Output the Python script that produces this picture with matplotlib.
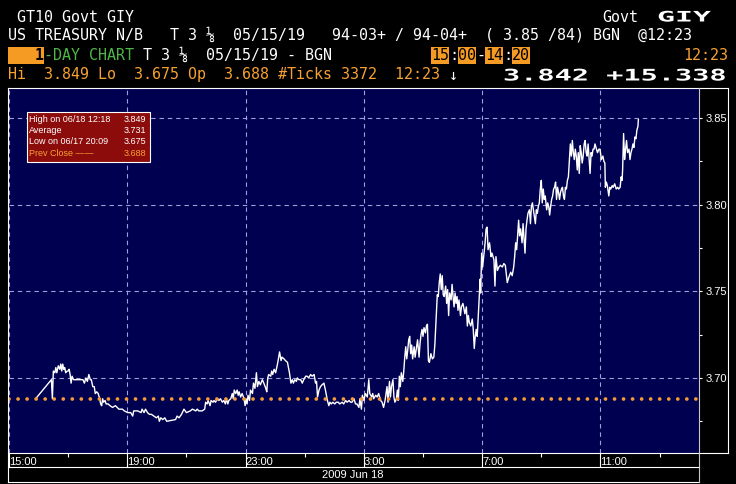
import matplotlib
matplotlib.use("Agg")
import matplotlib.pyplot as plt
from matplotlib.patches import Rectangle, PathPatch
from matplotlib.lines import Line2D
from matplotlib.textpath import TextPath
from matplotlib.font_manager import FontProperties
from matplotlib.transforms import Affine2D

# ---- data: minutes after 15:00 (Jun 17) and yield ----
tick_minutes = [
    54, 86, 88, 90, 93, 95, 97, 100, 103, 105, 107, 109, 111, 113, 115, 118, 120, 122, 124, 126,
    128, 131, 150, 153, 156, 159, 162, 165, 167, 170, 173, 175, 178, 181, 184, 186, 188, 190, 192, 195,
    197, 201, 205, 210, 216, 223, 230, 234, 241, 247, 251, 253, 261, 268, 270, 274, 277, 281, 285, 289,
    294, 299, 303, 305, 308, 312, 316, 320, 338, 341,
    345, 350, 355, 360, 368, 372, 379, 382, 385, 392, 397, 399, 402, 404, 408, 410, 414, 416, 419, 423,
    426, 429, 433, 436, 439, 441, 444, 446, 450, 453, 455, 457, 460, 463, 465, 467, 470, 473, 477, 479,
    481, 483, 485, 488, 490, 494, 496, 499, 502, 504, 507, 510, 514, 517, 521, 523, 525, 527, 531, 533,
    535, 538, 541, 544, 546, 549, 552, 554, 558, 561, 565, 567, 569, 572, 575, 577, 580, 583, 585, 588,
    592, 595, 598, 602, 605, 608, 612, 615, 619, 622, 624, 626, 629, 632, 635, 639, 642, 646, 649, 651,
    654, 657, 661, 664, 668, 671, 676, 679, 683, 686, 690, 693, 696, 700, 703, 706, 710, 712, 715, 717,
    720, 723, 727,
    730, 732, 736, 738, 740, 744, 747, 750, 754, 757, 760, 763, 765, 767, 769, 772, 774, 776, 779, 781,
    783, 786, 788, 790, 792, 794, 796, 799, 801, 803, 805, 807, 809, 811, 813, 815, 817, 819, 822, 824,
    826, 829, 832, 834, 836, 838, 840, 842, 845, 847, 849, 851, 853, 856, 859, 862, 864, 867, 869, 871,
    873, 875, 877, 879, 881, 883, 886, 888, 890, 892, 894, 897, 899, 901, 903, 905, 907, 909, 911, 913,
    916, 918, 921, 923, 925, 928, 930, 932, 934, 937, 940, 942, 944, 946, 948, 950, 952, 954, 956,
    957, 959, 961, 966, 968, 970, 972, 975, 978, 980, 984, 986, 988, 991, 994, 997, 1001, 1004, 1007, 1011,
    1014, 1018, 1021, 1024, 1026, 1028, 1030, 1032, 1034, 1036, 1038, 1041, 1043, 1045, 1047, 1049, 1051, 1053, 1056, 1058,
    1060, 1062, 1064, 1066, 1068, 1070, 1072, 1074, 1076, 1078, 1080, 1082, 1084, 1086, 1088, 1091, 1093, 1095, 1097, 1099,
    1101, 1103, 1105, 1107, 1109, 1111, 1113, 1115, 1117, 1119, 1121, 1123, 1125, 1127, 1129, 1131, 1133, 1135, 1137, 1139,
    1141, 1143, 1145, 1147, 1149, 1151, 1153, 1155, 1157, 1159, 1161, 1163, 1165, 1167, 1169, 1171, 1173, 1175, 1177, 1179,
    1181, 1183, 1185, 1187, 1189, 1191, 1194, 1197, 1199, 1202, 1205, 1207, 1209, 1210, 1212, 1214, 1217, 1219, 1221, 1224,
    1226, 1229, 1232, 1235, 1237, 1240, 1242, 1244, 1245, 1247, 1249, 1251, 1253, 1255, 1258, 1260, 1262, 1264, 1266, 1268,
    1270, 1272, 1274, 1276, 1277,
]
tick_yields = [
    3.688, 3.699, 3.688, 3.704, 3.703, 3.706, 3.703, 3.707, 3.705, 3.708, 3.704, 3.708, 3.705, 3.706, 3.703, 3.704, 3.704, 3.705, 3.702, 3.697,
    3.701, 3.699, 3.699, 3.697, 3.700, 3.698, 3.702, 3.699, 3.699, 3.695, 3.695, 3.691, 3.692, 3.691, 3.688, 3.685, 3.684, 3.688, 3.686, 3.687,
    3.685, 3.685, 3.684, 3.683, 3.684, 3.682, 3.682, 3.681, 3.680, 3.680, 3.678, 3.681, 3.681, 3.680, 3.682, 3.680, 3.682, 3.680, 3.679, 3.679,
    3.678, 3.677, 3.678, 3.675, 3.677, 3.676, 3.677, 3.675, 3.676, 3.678,
    3.677, 3.679, 3.682, 3.680, 3.681, 3.682, 3.681, 3.682, 3.681, 3.681, 3.682, 3.686, 3.685, 3.687, 3.684, 3.687, 3.686, 3.687, 3.686, 3.688,
    3.687, 3.688, 3.686, 3.687, 3.685, 3.688, 3.685, 3.687, 3.688, 3.691, 3.688, 3.693, 3.691, 3.693, 3.690, 3.692, 3.689, 3.691, 3.688, 3.684,
    3.688, 3.685, 3.690, 3.687, 3.693, 3.691, 3.697, 3.694, 3.703, 3.695, 3.698, 3.696, 3.699, 3.697, 3.694, 3.692, 3.700, 3.702, 3.701, 3.704,
    3.702, 3.705, 3.703, 3.707, 3.710, 3.715, 3.710, 3.712, 3.711, 3.710, 3.709, 3.706, 3.703, 3.697, 3.699, 3.697, 3.699, 3.698, 3.700, 3.699,
    3.699, 3.697, 3.699, 3.701, 3.701, 3.700, 3.702, 3.701, 3.702, 3.697, 3.698, 3.689, 3.693, 3.695, 3.696, 3.697, 3.693, 3.687, 3.684, 3.686,
    3.685, 3.686, 3.685, 3.686, 3.686, 3.685, 3.686, 3.685, 3.687, 3.686, 3.687, 3.686, 3.686, 3.688, 3.685, 3.685, 3.683, 3.688, 3.682, 3.690,
    3.687, 3.691, 3.689,
    3.699, 3.691, 3.689, 3.691, 3.688, 3.690, 3.689, 3.691, 3.687, 3.686, 3.683, 3.687, 3.691, 3.695, 3.686, 3.698, 3.689, 3.695, 3.699, 3.689,
    3.686, 3.688, 3.693, 3.687, 3.701, 3.695, 3.703, 3.698, 3.704, 3.712, 3.718, 3.711, 3.716, 3.722, 3.724, 3.714, 3.719, 3.711, 3.718, 3.712,
    3.716, 3.722, 3.712, 3.720, 3.725, 3.728, 3.724, 3.729, 3.726, 3.730, 3.731, 3.710, 3.709, 3.714, 3.711, 3.712, 3.719, 3.736, 3.748, 3.747,
    3.755, 3.760, 3.751, 3.759, 3.748, 3.747, 3.753, 3.743, 3.751, 3.736, 3.749, 3.745, 3.754, 3.747, 3.741, 3.749, 3.743, 3.747, 3.739, 3.745,
    3.736, 3.741, 3.743, 3.740, 3.737, 3.741, 3.730, 3.736, 3.732, 3.730, 3.734, 3.728, 3.717, 3.724, 3.728, 3.724, 3.735, 3.747, 3.757,
    3.749, 3.772, 3.764, 3.778, 3.786, 3.787, 3.774, 3.778, 3.770, 3.772, 3.768, 3.753, 3.770, 3.762, 3.764, 3.765, 3.764, 3.766, 3.765, 3.755,
    3.758, 3.761, 3.759, 3.764, 3.770, 3.778, 3.774, 3.782, 3.791, 3.782, 3.786, 3.778, 3.789, 3.780, 3.772, 3.786, 3.791, 3.795, 3.797, 3.789,
    3.799, 3.801, 3.797, 3.793, 3.789, 3.797, 3.795, 3.799, 3.801, 3.809, 3.814, 3.801, 3.809, 3.803, 3.805, 3.797, 3.801, 3.799, 3.794, 3.799,
    3.803, 3.805, 3.809, 3.810, 3.813, 3.803, 3.810, 3.807, 3.803, 3.807, 3.809, 3.810, 3.805, 3.803, 3.810, 3.809, 3.814, 3.816, 3.826, 3.835,
    3.828, 3.837, 3.830, 3.826, 3.832, 3.828, 3.820, 3.830, 3.818, 3.834, 3.830, 3.824, 3.828, 3.835, 3.837, 3.830, 3.828, 3.835, 3.826, 3.818,
    3.830, 3.828, 3.832, 3.832, 3.835, 3.833, 3.830, 3.832, 3.832, 3.826, 3.828, 3.825, 3.824, 3.810, 3.813, 3.811, 3.805, 3.810, 3.809, 3.811,
    3.810, 3.812, 3.809, 3.810, 3.809, 3.810, 3.816, 3.814, 3.820, 3.841, 3.826, 3.832, 3.837, 3.830, 3.832, 3.826, 3.830, 3.832, 3.835, 3.833,
    3.839, 3.838, 3.843, 3.845, 3.849,
]
prev_close = 3.688

x_major = [0, 240, 480, 720, 960, 1200]
x_labels = ["15:00", "19:00", "23:00", "3:00", "7:00", "11:00"]
x_minor = [120, 360, 600, 840, 1080, 1320]
y_major = [3.70, 3.75, 3.80, 3.85]
y_minor = [3.675, 3.725, 3.775, 3.825]

stats_labels = ["High on 06/18 12:18", "Average", "Low on 06/17 20:09", "Prev Close \u2014\u2014"]
stats_values = ["3.849", "3.731", "3.675", "3.688"]

plt.rcParams["font.family"] = ["Liberation Sans", "DejaVu Sans"]

W, H = 736, 484
fig = plt.figure(figsize=(W / 100, H / 100), dpi=100, facecolor="black")
px = Affine2D().scale(1 / W, 1 / H) + fig.transFigure   # pixel coords, origin bottom-left

ORANGE = "#f7a133"
BOX = "#f59a23"
GREEN = "#4fb548"
MONO = ["DejaVu Sans Mono", "DejaVu Sans"]


def fy(y):
    return 1 - y / H


def term(col, y, s, color, **kw):
    fig.text((8 + col * 9) / W, fy(y), s, color=color, family=MONO, fontsize=10.8,
             va="center", ha="left", **kw)


def box(col, n, y0=47, y1=64):
    fig.add_artist(Rectangle(((8 + col * 9) / W, fy(y1)), n * 9 / W, (y1 - y0) / H,
                             transform=fig.transFigure, facecolor=BOX, edgecolor="none", zorder=1))


def wide(x, base_y, s, size, pitch, color="white"):
    fp = FontProperties(family="DejaVu Sans Mono", weight="bold")
    tp = TextPath((0, 0), s, size=size, prop=fp)
    sx = pitch / (0.602 * size)
    tr = Affine2D().scale(sx, 1).translate(x, H - base_y) + px
    fig.add_artist(PathPatch(tp, transform=tr, facecolor=color, edgecolor="none"))


# header lines
term(0, 18, " GT10 Govt GIY", "white")
term(66, 18, "Govt", "white")
wide(657, 21.5, "GIY", 14.5, 18)

term(0, 35, "US TREASURY N/B   T 3 \u215b  05/15/19   94-03+ / 94-04+  ( 3.85 /84) BGN  @12:23", "white")

box(0, 4)
term(3, 55, "1", "black", fontweight="bold")
term(4, 55, "-DAY CHART", GREEN)
term(14, 55, " T 3 \u215b  05/15/19 - BGN", "white")
for col, s in [(47, "15"), (50, "00"), (53, "14"), (56, "20")]:
    box(col, 2)
    term(col, 55, s, "black", zorder=2)
term(49, 55, ":", "white")
term(52, 55, "-", "white")
term(55, 55, ":", "white")
term(75, 55, "12:23", ORANGE)

term(0, 75, "Hi  3.849 Lo  3.675 Op  3.688 #Ticks 3372  12:23", ORANGE)
term(49, 75, "\u2193", "white")
wide(503, 80.5, "3.842 +15.338", 16, 17.2)

# chart
ax = fig.add_axes([9 / W, 1 - 453 / H, 690 / W, 364 / H])
ax.set_facecolor("#000050")
ax.plot(tick_minutes, tick_yields, color="white", lw=1.0, zorder=3)
ax.axhline(prev_close, color="#f59a36", lw=2.7, linestyle=(0, (0.01, 2.4)),
           dash_capstyle="round", zorder=4)
ax.set_xlim(0, 1400)
ax.set_ylim(3.6567, 3.8667)

ax.set_xticks(x_major, x_labels)
ax.set_xticks(x_minor, minor=True)
ax.tick_params(axis="x", which="major", length=10, width=0.8, color="white", pad=-7.2,
               labelsize=8, labelcolor="white")
ax.tick_params(axis="x", which="minor", length=3, width=0.8, color="white")
for lbl in ax.get_xticklabels():
    lbl.set_ha("left")

ax.yaxis.tick_right()
ax.set_yticks(y_major, [f"{v:.2f}" for v in y_major])
ax.set_yticks(y_minor, minor=True)
ax.tick_params(axis="y", which="both", length=2.5, width=0.8, color="white", pad=2,
               labelsize=8, labelcolor="white")

ax.grid(which="major", color="#a0a0d8", linestyle=(0, (4, 3.5)), linewidth=0.8)
for s in ax.spines.values():
    s.set_visible(False)

# stats box
fig.add_artist(Rectangle((27 / W, fy(162)), 123 / W, 50 / H, transform=fig.transFigure,
                         facecolor="#8c0b0b", edgecolor="white", lw=0.8, zorder=5))
for i, (lab, val) in enumerate(zip(stats_labels, stats_values)):
    c = ORANGE if i == 3 else "white"
    yy = fy(119 + i * 11.5)
    fig.text(29 / W, yy, lab, color=c, fontsize=6.5, va="center", ha="left", zorder=6)
    fig.text(146 / W, yy, val, color=c, fontsize=6.5, va="center", ha="right", zorder=6)

# frame lines
def seg(x0, y0, x1, y1, color="white"):
    fig.add_artist(Line2D([x0 / W, x1 / W], [fy(y0), fy(y1)], color=color, lw=0.8, zorder=7))

seg(8, 88, 728, 88)
seg(8, 88, 8, 482)
seg(8, 482, 699, 482)
seg(8, 467, 699, 467)
seg(8, 453, 728, 453)
seg(699, 88, 699, 482, "#c8c8c8")
seg(728, 88, 728, 453)

fig.text(353 / W, fy(475), "2009 Jun 18", color="white", fontsize=8, ha="center", va="center")

fig.savefig("out.png", dpi=100, facecolor="black")
